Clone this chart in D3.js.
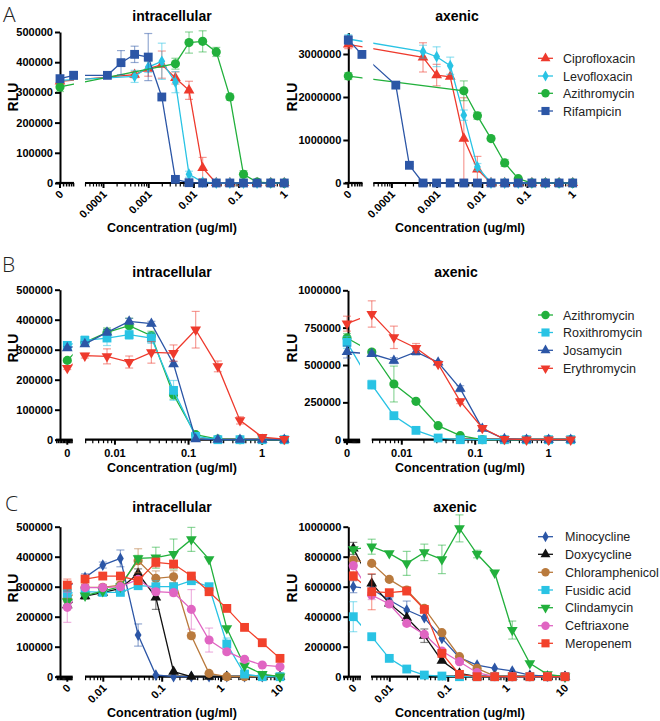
<!DOCTYPE html>
<html><head><meta charset="utf-8">
<script src="https://cdn.jsdelivr.net/npm/d3@7"></script>
<style>body{margin:0;background:#fff}</style>
</head><body><svg id="c" width="660" height="721" xmlns="http://www.w3.org/2000/svg"></svg>
<script>
const FONT = "'Liberation Sans', Arial, Helvetica, sans-serif";
// plotting positions used for the "0" control points on the log axis
const ZERO_X = [5e-7, 1e-6];

// ---------- concentrations (ug/ml) ----------
const concA = [0.000122, 0.000244, 0.000488, 0.000977, 0.00195, 0.0039, 0.0078, 0.0156, 0.03125, 0.0625, 0.125, 0.25, 0.5, 1];
const concB = [0.0039, 0.0078, 0.0156, 0.03125, 0.0625, 0.125, 0.25, 0.5, 1, 2];
const concC = [0.0049, 0.0098, 0.0195, 0.039, 0.078, 0.156, 0.3125, 0.625, 1.25, 2.5, 5, 10];

// ---------- tick values ----------
const yTicks500k = [0, 100000, 200000, 300000, 400000, 500000];
const yTicksA_ax = [0, 1000000, 2000000, 3000000];
const yTicksB_ax = [0, 250000, 500000, 750000, 1000000];
const yTicksC_ax = [0, 200000, 400000, 600000, 800000, 1000000];
const xTicksA = [0.0001, 0.001, 0.01, 0.1, 1];
const xTicksB = [0.01, 0.1, 1];
const xTicksC = [0.01, 0.1, 1, 10];

// ---------- Panel A ----------
const namesA = ["Ciprofloxacin", "Levofloxacin", "Azithromycin", "Rifampicin"];
const A_int_zero = [[336700], [340000], [318000], [345500, 356500]];
const A_int_zeroErr = [[8000], [8000], [15000], [10000, 13000]];
const A_int_cipro = [null, null, 358700, 378600, 392000, 347700, 306900, 49700, 0, 0, 0, 0, 0, 0];
const A_int_cipro_err = [0, 0, 10000, 25000, 45000, 20000, 30000, 35000, 0, 0, 0, 0, 0, 0];
const A_int_levo = [null, null, 353000, 384000, 403000, 334000, 29000, 3000, 0, 0, 0, 0, 0, 0];
const A_int_levo_err = [0, 0, 20000, 18000, 60000, 35000, 10000, 0, 0, 0, 0, 0, 0, 0];
const A_int_azi = [null, null, null, null, null, 395000, 465000, 469000, 434000, 285000, 29000, 3000, 0, 0];
const A_int_azi_err = [0, 0, 0, 0, 0, 18000, 35000, 35000, 15000, 10000, 12000, 0, 0, 0];
const A_int_rif = [356500, 398500, 426000, 417000, 284800, 12000, 1000, 0, 0, 0, 0, 0, 0, 0];
const A_int_rif_err = [5000, 40000, 27000, 78000, 0, 0, 0, 0, 0, 0, 0, 0, 0, 0];

const A_ax_zero = [[3224000], [3349000], [2486400], [3325000, 2991000]];
const A_ax_zeroErr = [[100000], [100000], [80000], [100000, 80000]];
const A_ax_cipro = [null, null, 2921500, 2509700, 2470900, 1033400, 318600, 0, 0, 0, 0, 0, 0, 0];
const A_ax_cipro_err = [0, 0, 340000, 250000, 0, 950000, 300000, 0, 0, 0, 0, 0, 0, 0];
const A_ax_levo = [null, null, 3053600, 2937000, 2727000, 1577000, 373000, 0, 0, 0, 0, 0, 0, 0];
const A_ax_levo_err = [0, 0, 150000, 230000, 200000, 120000, 80000, 0, 0, 0, 0, 0, 0, 0];
const A_ax_azi = [null, null, null, null, null, 2144500, 1561800, 1033400, 466200, 101000, 0, 0, 0, 0];
const A_ax_azi_err = [0, 0, 0, 0, 0, 230000, 80000, 0, 80000, 0, 0, 0, 0, 0];
const A_ax_rif = [2276600, 411800, 0, 0, 0, 0, 0, 0, 0, 0, 0, 0, 0, 0];
const A_ax_rif_err = [0, 30000, 0, 0, 0, 0, 0, 0, 0, 0, 0, 0, 0, 0];

// ---------- Panel B ----------
const namesB = ["Azithromycin", "Roxithromycin", "Josamycin", "Erythromycin"];
const B_int_zero = [[264400], [314400], [305500], [238900]];
const B_int_zeroErr = [[5000], [12000], [5000], [5000]];
const B_int_azi = [324400, 357700, 380000, 346600, 150000, 16700, 2000, 0, 0, 0];
const B_int_azi_err = [10000, 15000, 25000, 15000, 15000, 0, 0, 0, 0, 0];
const B_int_roxi = [331000, 338900, 350000, 338900, 164400, 11000, 0, 0, 0, 0];
const B_int_roxi_err = [15000, 25000, 15000, 18000, 33000, 0, 0, 0, 0, 0];
const B_int_josa = [318900, 357700, 394400, 386600, 252200, 2000, 0, 0, 0, 0];
const B_int_josa_err = [8000, 10000, 10000, 8000, 8000, 0, 0, 0, 0, 0];
const B_int_ery = [280000, 277800, 258900, 291100, 288900, 366600, 244400, 64400, 8900, 2000];
const B_int_ery_err = [8000, 25000, 20000, 36000, 27000, 61000, 18000, 12000, 5000, 0];

const B_ax_zero = [[680800], [651700], [587000], [776700]];
const B_ax_zeroErr = [[30000], [40000], [40000], [50000]];
const B_ax_azi = [587000, 372700, 256700, 93700, 26800, 0, 0, 0, 0, 0];
const B_ax_azi_err = [15000, 120000, 0, 0, 0, 0, 0, 0, 0, 0];
const B_ax_roxi = [368300, 160700, 62500, 11200, 0, 0, 0, 0, 0, 0];
const B_ax_roxi_err = [30000, 0, 0, 0, 0, 0, 0, 0, 0, 0];
const B_ax_josa = [573600, 529000, 587000, 517800, 341500, 73700, 4500, 0, 0, 0];
const B_ax_josa_err = [15000, 20000, 20000, 10000, 20000, 10000, 0, 0, 0, 0];
const B_ax_ery = [841500, 685200, 613800, 506700, 256700, 78100, 4500, 0, 0, 0];
const B_ax_ery_err = [88000, 75000, 30000, 10000, 15000, 5000, 0, 0, 0, 0];

// ---------- Panel C ----------
const namesC = ["Minocycline", "Doxycycline", "Chloramphenicol", "Fusidic acid", "Clindamycin", "Ceftriaxone", "Meropenem"];
const C_int_zero = [[300000], [238900], [261000], [277700], [250000], [231100], [305500]];
const C_int_zeroErr = [[10000], [10000], [10000], [10000], [10000], [50000], [20000]];
const C_int_mino = [331000, 372200, 394400, 138900, 5600, 0, 0, 0, 0, 0, 0, 0];
const C_int_mino_err = [12000, 10000, 28000, 37000, 0, 0, 0, 0, 0, 0, 0, 0];
const C_int_doxy = [268900, 280000, 294400, 344400, 264400, 16700, 0, 0, 0, 0, 0, 0];
const C_int_doxy_err = [10000, 8000, 8000, 15000, 40000, 0, 0, 0, 0, 0, 0, 0];
const C_int_chlor = [297700, 297700, 305500, 386600, 327700, 333300, 136600, 11100, 0, 0, 0, 0];
const C_int_chlor_err = [10000, 10000, 10000, 40000, 25000, 20000, 10000, 0, 0, 0, 0, 0];
const C_int_fus = [283300, 281100, 281100, 303300, 300000, 300000, 320000, 300000, 108900, 8900, 0, 0];
const C_int_fus_err = [10000, 8000, 8000, 10000, 20000, 10000, 10000, 10000, 20000, 0, 0, 0];
const C_int_clin = [270000, 285000, 300000, 394400, 396600, 408900, 457700, 391100, 161100, 36700, 8900, 0];
const C_int_clin_err = [0, 0, 0, 10000, 35000, 50000, 40000, 0, 0, 0, 0, 0];
const C_int_cef = [297000, 297000, 300000, 324400, 283300, 280000, 224400, 122200, 83300, 57800, 38900, 33300];
const C_int_cef_err = [0, 0, 0, 10000, 10000, 10000, 66000, 40000, 8000, 5000, 5000, 5000];
const C_int_mero = [325500, 335500, 335500, 320000, 381100, 375500, 335500, 283300, 227700, 164400, 113300, 61100];
const C_int_mero_err = [10000, 10000, 10000, 10000, 15000, 10000, 10000, 10000, 5000, 8000, 5000, 5000];

const C_ax_zero = [[600000], [855500], [777700], [400000], [848800], [740000], [671000]];
const C_ax_zeroErr = [[40000], [40000], [20000], [100000], [10000], [20000], [30000]];
const C_ax_mino = [584400, 511000, 444400, 393300, 255500, 126700, 77800, 55600, 37800, 11100, 4400, 0];
const C_ax_mino_err = [20000, 15000, 60000, 0, 0, 0, 0, 0, 0, 0, 0, 0];
const C_ax_doxy = [622200, 488800, 393300, 273300, 106700, 22200, 0, 0, 0, 0, 0, 0];
const C_ax_doxy_err = [60000, 15000, 0, 45000, 0, 0, 0, 0, 0, 0, 0, 0];
const C_ax_chlor = [755500, 648800, 577700, 455500, 293300, 133300, 55600, 4400, 0, 0, 0, 0];
const C_ax_chlor_err = [10000, 0, 20000, 0, 0, 0, 0, 0, 0, 0, 0, 0];
const C_ax_fus = [266600, 122200, 51100, 11100, 4400, 0, 0, 0, 0, 0, 0, 0];
const C_ax_fus_err = [0, 0, 0, 0, 0, 0, 0, 0, 0, 0, 0, 0];
const C_ax_clin = [866600, 822200, 755500, 828800, 782200, 988800, 817700, 693300, 311100, 88900, 15500, 0];
const C_ax_clin_err = [50000, 0, 80000, 55000, 95000, 90000, 25000, 0, 60000, 0, 0, 0];
const C_ax_cef = [544400, 484400, 355500, 282200, 171100, 100000, 26700, 0, 0, 0, 0, 0];
const C_ax_cef_err = [30000, 10000, 10000, 0, 0, 0, 0, 0, 0, 0, 0, 0];
const C_ax_mero = [566600, 560000, 571000, 448800, 155500, 15500, 0, 0, 0, 0, 0, 0];
const C_ax_mero_err = [120000, 20000, 20000, 0, 0, 0, 0, 0, 0, 0, 0, 0];

// ---------- styles ----------
const COL = {
  red: "#ee3a2d", cyan: "#29c3e4", green: "#22b03c", blue: "#2c56a6",
  black: "#111111", brown: "#b97a3d", pink: "#e065c2", red2: "#f2412b"
};
const styleA = [["red", "tri"], ["cyan", "diamond"], ["green", "circle"], ["blue", "square"]];
const styleB = [["green", "circle"], ["cyan", "square"], ["blue", "tri"], ["red", "tridown"]];
const styleC = [["blue", "diamond"], ["black", "tri"], ["brown", "circle"], ["cyan", "square"], ["green", "tridown"], ["pink", "circle"], ["red2", "square"]];

function mk(names, styles, zeros, zeroErrs, vals, errs) {
  return names.map((n, i) => ({
    name: n, color: COL[styles[i][0]], sym: styles[i][1],
    zero: zeros[i], zeroErr: zeroErrs[i], vals: vals[i], err: errs[i]
  }));
}

const panels = [
  { id: "ai", title: "intracellular", conc: concA, yTicks: yTicks500k, ymax: 500000,
    yAxisX: 60, yTop: 32, yBot: 183, zeroX: 60, seg1: [56, 74], seg2: [85, 287], dpx: 45.2, anchor: [1, 284.3],
    xTicks: xTicksA, rotate: true, titleX: 172, titleY: 21, ylabX: 18, ylabY: 97, xtitleX: 172, xtitleY: 232,
    series: mk(namesA, styleA, A_int_zero, A_int_zeroErr, [A_int_cipro, A_int_levo, A_int_azi, A_int_rif], [A_int_cipro_err, A_int_levo_err, A_int_azi_err, A_int_rif_err]) },
  { id: "aa", title: "axenic", conc: concA, yTicks: yTicksA_ax, ymax: 3500000,
    yAxisX: 348.3, yTop: 32.5, yBot: 183, zeroX: 348.3, seg1: [345, 362.5], seg2: [373.3, 575], dpx: 45.2, anchor: [1, 572.7],
    xTicks: xTicksA, rotate: true, titleX: 457, titleY: 21, ylabX: 297, ylabY: 97, xtitleX: 460, xtitleY: 232,
    legend: { x0: 538, x1: 553, tx: 563, ys: [58.3, 76, 93.3, 111] },
    series: mk(namesA, styleA, A_ax_zero, A_ax_zeroErr, [A_ax_cipro, A_ax_levo, A_ax_azi, A_ax_rif], [A_ax_cipro_err, A_ax_levo_err, A_ax_azi_err, A_ax_rif_err]) },
  { id: "bi", title: "intracellular", conc: concB, yTicks: yTicks500k, ymax: 500000,
    yAxisX: 60, yTop: 289.7, yBot: 439.7, zeroX: 67.3, seg1: [56, 72.7], seg2: [85, 287], dpx: 73.6, anchor: [2, 284.3],
    xTicks: xTicksB, rotate: false, titleX: 172, titleY: 277, ylabX: 18, ylabY: 348, xtitleX: 172, xtitleY: 472,
    series: mk(namesB, styleB, B_int_zero, B_int_zeroErr, [B_int_azi, B_int_roxi, B_int_josa, B_int_ery], [B_int_azi_err, B_int_roxi_err, B_int_josa_err, B_int_ery_err]) },
  { id: "ba", title: "axenic", conc: concB, yTicks: yTicksB_ax, ymax: 1000000,
    yAxisX: 348, yTop: 290.3, yBot: 439.7, zeroX: 347, seg1: [343, 360], seg2: [371.7, 573], dpx: 73.4, anchor: [2, 570.7],
    xTicks: xTicksB, rotate: false, titleX: 456, titleY: 277, ylabX: 297, ylabY: 348, xtitleX: 460, xtitleY: 472,
    legend: { x0: 538, x1: 553, tx: 563, ys: [315, 332.5, 350.3, 368.3] },
    series: mk(namesB, styleB, B_ax_zero, B_ax_zeroErr, [B_ax_azi, B_ax_roxi, B_ax_josa, B_ax_ery], [B_ax_azi_err, B_ax_roxi_err, B_ax_josa_err, B_ax_ery_err]) },
  { id: "ci", title: "intracellular", conc: concC, yTicks: yTicks500k, ymax: 500000,
    yAxisX: 60, yTop: 526.7, yBot: 676.7, zeroX: 67.3, seg1: [56, 72.7], seg2: [85, 283.5], dpx: 58.9, anchor: [10, 280],
    xTicks: xTicksC, rotate: true, titleX: 172, titleY: 512, ylabX: 18, ylabY: 588, xtitleX: 172, xtitleY: 717,
    series: mk(namesC, styleC, C_int_zero, C_int_zeroErr, [C_int_mino, C_int_doxy, C_int_chlor, C_int_fus, C_int_clin, C_int_cef, C_int_mero], [C_int_mino_err, C_int_doxy_err, C_int_chlor_err, C_int_fus_err, C_int_clin_err, C_int_cef_err, C_int_mero_err]) },
  { id: "ca", title: "axenic", conc: concC, yTicks: yTicksC_ax, ymax: 1000000,
    yAxisX: 348.3, yTop: 526.7, yBot: 676.7, zeroX: 353.3, seg1: [343, 361], seg2: [371, 570], dpx: 58.4, anchor: [10, 565],
    xTicks: xTicksC, rotate: true, titleX: 455, titleY: 512, ylabX: 297, ylabY: 588, xtitleX: 460, xtitleY: 717,
    legend: { x0: 538, x1: 553, tx: 565, ys: [536.7, 554.3, 572.3, 590, 607.7, 625.7, 643.3] },
    series: mk(namesC, styleC, C_ax_zero, C_ax_zeroErr, [C_ax_mino, C_ax_doxy, C_ax_chlor, C_ax_fus, C_ax_clin, C_ax_cef, C_ax_mero], [C_ax_mino_err, C_ax_doxy_err, C_ax_chlor_err, C_ax_fus_err, C_ax_clin_err, C_ax_cef_err, C_ax_mero_err]) }
];

const svg = d3.select("#c");
svg.append("rect").attr("width", 660).attr("height", 721).attr("fill", "#fff");

function symPath(sym, k) {
  k = k || 1;
  if (sym === "square") return d3.symbol(d3.symbolSquare, 78 * k)();
  if (sym === "circle") return d3.symbol(d3.symbolCircle, 66 * k)();
  if (sym === "diamond") return d3.symbol(d3.symbolDiamond, 40 * k)();
  return d3.symbol(d3.symbolTriangle, 50 * k)();
}
function symTransform(sym, x, y) {
  return sym === "tridown" ? `translate(${x},${y}) rotate(180)` : `translate(${x},${y})`;
}

function drawPanel(P) {
  const g = svg.append("g");
  const y = d3.scaleLinear().domain([0, P.ymax]).range([P.yBot, P.yTop]);
  const p10 = d => Math.pow(10, d);
  const xs2 = d3.scaleLog()
    .domain([P.anchor[0] * p10((P.seg2[0] - P.anchor[1]) / P.dpx), P.anchor[0] * p10((P.seg2[1] - P.anchor[1]) / P.dpx)])
    .range(P.seg2);
  const xs1 = d3.scaleLog()
    .domain([ZERO_X[0] * p10((P.seg1[0] - P.zeroX) / P.dpx), ZERO_X[0] * p10((P.seg1[1] - P.zeroX) / P.dpx)])
    .range(P.seg1);
  const X = v => v < 1e-5 ? xs1(v) : xs2(v);

  const cp = svg.append("clipPath").attr("id", "clip" + P.id);
  cp.append("rect").attr("x", P.seg1[0]).attr("y", 0).attr("width", P.seg1[1] - P.seg1[0]).attr("height", 721);
  cp.append("rect").attr("x", P.seg2[0]).attr("y", 0).attr("width", P.seg2[1] - P.seg2[0] + 8).attr("height", 721);

  // Y axis
  const ya = d3.axisLeft(y).tickValues(P.yTicks).tickSize(5).tickSizeOuter(0).tickPadding(2).tickFormat(d => String(d));
  const yg = g.append("g").attr("transform", `translate(${P.yAxisX},0)`).call(ya);
  yg.select(".domain").attr("stroke", "#000").attr("stroke-width", 2);
  yg.selectAll(".tick line").attr("stroke", "#000").attr("stroke-width", 2);
  yg.selectAll(".tick text").attr("font-family", FONT).attr("font-size", 11).attr("font-weight", "bold").attr("fill", "#000");

  // X axis: segment 1 (zero)
  const axY = P.yBot;
  g.append("line").attr("x1", P.seg1[0]).attr("x2", P.seg1[1]).attr("y1", axY).attr("y2", axY).attr("stroke", "#000").attr("stroke-width", 2.2);
  const t1 = xs1.ticks().filter(t => t >= xs1.domain()[0] && t <= xs1.domain()[1] * 1.0001);
  t1.forEach(t => {
    const major = Math.abs(t - ZERO_X[0]) < 1e-12;
    g.append("line").attr("x1", xs1(t)).attr("x2", xs1(t)).attr("y1", axY).attr("y2", axY + (major ? 5 : 3.5))
      .attr("stroke", "#000").attr("stroke-width", major ? 2 : 1.5);
  });
  // X axis: segment 2 (log)
  g.append("line").attr("x1", P.seg2[0]).attr("x2", P.seg2[1]).attr("y1", axY).attr("y2", axY).attr("stroke", "#000").attr("stroke-width", 2.2);
  xs2.ticks().forEach(t => {
    const lg = Math.log10(t);
    const major = Math.abs(lg - Math.round(lg)) < 1e-6;
    g.append("line").attr("x1", xs2(t)).attr("x2", xs2(t)).attr("y1", axY).attr("y2", axY + (major ? 5 : 3.5))
      .attr("stroke", "#000").attr("stroke-width", major ? 2 : 1.2);
  });
  // X tick labels
  const labels = [{ x: xs1(ZERO_X[0]), s: "0" }].concat(P.xTicks.map(t => ({ x: xs2(t), s: String(t) })));
  labels.forEach(l => {
    const t = g.append("text").text(l.s).attr("font-family", FONT).attr("font-size", 11).attr("font-weight", "bold").attr("fill", "#000");
    if (P.rotate) {
      t.attr("text-anchor", "end").attr("transform", `translate(${l.x + 4},${axY + 12}) rotate(-45)`);
    } else {
      t.attr("text-anchor", "middle").attr("x", l.x).attr("y", axY + 17);
    }
  });

  // titles
  g.append("text").text(P.title).attr("x", P.titleX).attr("y", P.titleY).attr("text-anchor", "middle")
    .attr("font-family", FONT).attr("font-size", 14).attr("font-weight", "bold");
  g.append("text").text("RLU").attr("text-anchor", "middle").attr("transform", `translate(${P.ylabX},${P.ylabY}) rotate(-90)`)
    .attr("font-family", FONT).attr("font-size", 14).attr("font-weight", "bold");
  g.append("text").text("Concentration (ug/ml)").attr("x", P.xtitleX).attr("y", P.xtitleY).attr("text-anchor", "middle")
    .attr("font-family", FONT).attr("font-size", 12.5).attr("font-weight", "bold");

  // series
  P.series.forEach(s => {
    const pts = [];
    s.zero.forEach((v, i) => pts.push({ x: ZERO_X[i], v: v, e: (s.zeroErr && s.zeroErr[i]) || 0 }));
    s.vals.forEach((v, i) => { if (v != null) pts.push({ x: P.conc[i], v: v, e: (s.err && s.err[i]) || 0 }); });
    const sg = g.append("g");
    // error bars
    pts.filter(d => d.e > 0).forEach(d => {
      const cx = X(d.x);
      const lo = Math.max(0, d.v - d.e), hi = d.v + d.e;
      const eg = sg.append("g").attr("stroke", s.color).attr("stroke-opacity", 0.5).attr("stroke-width", 1.2);
      eg.append("line").attr("x1", cx).attr("x2", cx).attr("y1", y(lo)).attr("y2", y(hi));
      eg.append("line").attr("x1", cx - 4).attr("x2", cx + 4).attr("y1", y(hi)).attr("y2", y(hi));
      if (lo > 0) eg.append("line").attr("x1", cx - 4).attr("x2", cx + 4).attr("y1", y(lo)).attr("y2", y(lo));
    });
    // line
    sg.append("path").attr("d", d3.line().x(d => X(d.x)).y(d => y(d.v))(pts))
      .attr("fill", "none").attr("stroke", s.color).attr("stroke-width", 1.3)
      .attr("clip-path", `url(#clip${P.id})`);
    // markers
    pts.forEach(d => {
      sg.append("path").attr("d", symPath(s.sym)).attr("transform", symTransform(s.sym, X(d.x), y(d.v)))
        .attr("fill", s.color);
    });
  });

  // legend
  if (P.legend) {
    const L = P.legend;
    P.series.forEach((s, i) => {
      const yy = L.ys[i];
      g.append("line").attr("x1", L.x0).attr("x2", L.x1).attr("y1", yy).attr("y2", yy).attr("stroke", s.color).attr("stroke-width", 1.3);
      g.append("path").attr("d", symPath(s.sym, 0.85)).attr("transform", symTransform(s.sym, (L.x0 + L.x1) / 2, yy)).attr("fill", s.color);
      g.append("text").text(s.name).attr("x", L.tx).attr("y", yy + 4.5).attr("font-family", FONT).attr("font-size", 12.5).attr("fill", "#222");
    });
  }
}

panels.forEach(drawPanel);

// panel letters
[["A", 3, 22], ["B", 2, 272], ["C", 5, 511]].forEach(([t, x, yy]) => {
  svg.append("text").text(t).attr("x", x).attr("y", yy).attr("font-family", "'Open Sans', 'Noto Sans', sans-serif")
    .attr("font-size", 21).attr("font-weight", 300).attr("fill", "#222");
});
</script></body></html>
